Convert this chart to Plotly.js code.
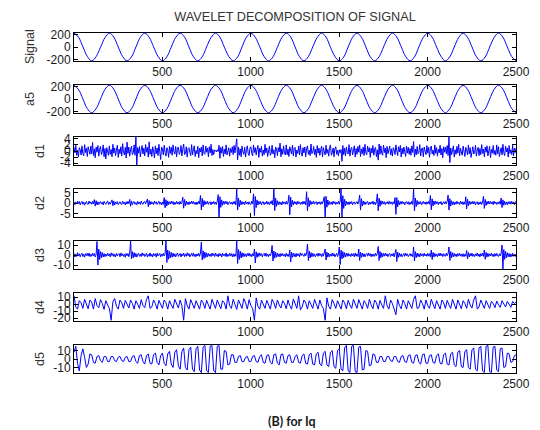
<!DOCTYPE html>
<html>
<head>
<meta charset="utf-8">
<script src="https://cdn.plot.ly/plotly-3.0.1.min.js"></script>
<style>html,body{margin:0;padding:0;background:#fff;}#chart{width:540px;height:430px;}</style>
</head>
<body>
<div id="chart"></div>
<script>
// Panel names (y-axis labels)
var panelNames = ["Signal", "a5", "d1", "d2", "d3", "d4", "d5"];
var xTickVals = [500, 1000, 1500, 2000, 2500];
var xTickText = ["500", "1000", "1500", "2000", "2500"];

// y tick values per panel
var yTicks = [
  [-200, 0, 200],
  [-200, 0, 200],
  [-4, -2, 0, 2, 4],
  [-5, 0, 5],
  [-10, 0, 10],
  [-20, -10, 0, 10],
  [-10, 0, 10]
];
var yRanges = [[-224, 224], [-224, 224], [-4.6, 4.6], [-6.7, 6.7], [-14, 14], [-24, 16], [-16.5, 16.5]];

// Sample spacing of the read-off values
var coarseStep = 25;  // signal, a5
var fineStep = 5;     // d1, d2, d3
var midStep = 10;     // d4, d5

var signal = [
222,160,5,-150,-222,-155,-3,150,
222,158,2,-152,-222,-158,0,155,
222,156,4,-151,-222,-157,-2,153,
222,159,0,-154,-222,-156,3,152,
222,157,-2,-150,-222,-159,1,156,
222,155,3,-153,-222,-157,-4,150,
222,160,1,-155,-222,-154,2,152,
222,158,-3,-151,-222,-160,0,155,
222,156,2,-156,-222,-155,-1,151,
222,159,4,-152,-222,-158,3,154,
222,157,-1,-150,-222,-156,0,153,
222,154,2,-154,-222,-159,-2,150,
222,158,1,-153,-222
];

var a5 = [
220,155,2,-152,-220,-156,-1,154,
220,157,1,-154,-220,-157,0,155,
220,156,2,-153,-220,-156,-1,154,
220,157,0,-155,-220,-157,1,153,
220,156,-1,-153,-220,-158,0,155,
220,155,1,-154,-220,-157,-2,152,
220,157,0,-155,-220,-156,1,153,
220,156,-1,-153,-220,-157,0,155,
220,155,1,-155,-220,-156,0,152,
220,157,2,-153,-220,-157,1,154,
220,156,0,-152,-220,-156,0,154,
220,155,1,-154,-220,-157,-1,152,
220,157,0,-154,-220
];

var d1 = [
1.2,-0.6,1.9,-1.4,0.3,-2.0,1.1,0.4,-1.3,1.7,-0.8,-1.6,2.1,-0.5,0.9,-1.8,1.4,-0.2,-1.1,1.6,
-0.9,2.8,-1.5,0.7,-2.2,1.3,-0.4,1.8,-1.7,0.6,1.5,-1.2,-0.3,2.0,-1.9,0.8,-2.6,1.1,0.2,-1.4,
1.7,-1.1,0.5,-1.9,2.2,-0.7,1.0,-1.5,0.3,1.9,-2.1,0.6,-0.9,1.4,-1.6,2.4,-0.5,-1.3,1.2,-2.3,
2.9,-0.8,1.3,-1.7,0.4,1.6,-1.2,-0.6,2.0,-1.4,4.6,-4.6,1.1,-0.7,1.5,-1.9,0.3,1.8,-1.0,0.9,
-1.6,2.1,-0.4,1.2,-2.0,3.0,-1.1,0.6,-1.8,1.4,-0.3,-2.3,1.7,-0.9,1.0,-1.5,2.2,-0.6,-2.8,1.3,
0.7,-1.3,1.9,-0.5,-1.7,1.1,0.3,-2.1,1.6,-0.8,1.2,-1.4,2.0,-0.2,-1.0,1.5,-1.9,0.9,1.3,-1.1,
-0.4,1.8,-1.6,0.6,2.3,-1.2,-0.7,1.4,-2.0,0.8,1.1,-0.5,-1.5,2.1,-1.3,0.4,1.7,-1.8,0.2,-0.9,
1.5,-2.2,0.9,-0.3,1.3,-1.6,2.0,-0.8,-1.1,1.6,-0.4,1.0,-1.9,1.4,-0.6,2.2,-1.5,0.5,-1.2,0.3,
0.2,-0.3,0.4,-0.2,1.9,-2.4,1.2,-0.7,1.5,-1.8,0.6,-1.0,2.0,-1.3,0.4,1.1,-1.7,0.8,-0.5,1.4,
-1.2,1.8,-0.6,2.1,4.0,-2.9,1.3,-1.4,0.7,-1.9,1.6,-0.3,-1.1,1.2,-2.0,0.5,1.7,-0.9,-1.5,1.0,
1.4,-0.8,-1.6,2.0,-0.5,1.1,-1.3,0.6,1.8,-2.1,0.9,-0.4,1.5,-1.7,0.3,-1.2,2.2,-0.6,1.0,-1.8,
0.5,1.6,-1.4,-0.7,1.9,-1.0,0.4,-2.2,1.3,0.8,-1.5,1.1,-0.3,2.6,-1.9,0.7,-1.1,1.7,-0.6,-1.3,
2.0,-1.2,0.6,-1.8,1.4,-0.4,-1.0,1.9,-1.6,0.9,1.2,-2.0,0.3,-0.8,1.6,-1.3,2.1,-0.5,-1.7,1.1,
-0.6,1.3,-1.9,0.8,1.7,-1.1,0.2,-1.5,2.3,-0.9,-0.4,1.5,-1.2,0.6,-2.1,1.8,-0.7,1.0,-1.4,0.4,
1.6,-2.0,1.1,-0.3,-1.3,1.9,-0.8,0.5,-1.7,1.2,2.0,-1.4,-0.6,1.0,-1.9,0.7,1.4,-1.1,0.3,-1.6,
0.4,-0.6,0.5,-3.4,1.8,-1.2,0.9,-1.6,1.3,-0.5,-1.0,2.1,-1.7,0.6,1.2,-1.3,0.2,1.7,-2.0,0.8,
-1.1,1.5,-0.4,2.0,-1.8,0.7,-0.9,1.3,-1.5,2.2,-0.6,-1.2,1.6,-0.3,1.1,-2.1,0.9,-0.7,1.8,-1.4,
0.6,1.2,-1.9,0.4,-3.0,2.3,-1.1,1.7,-0.8,-1.4,1.9,-0.5,1.0,-2.2,1.5,-0.9,0.3,1.6,-1.3,0.7,
-1.7,1.1,0.5,-1.2,2.0,-0.6,-1.5,1.4,-0.3,1.8,-2.0,0.9,-1.0,1.3,0.2,-1.8,1.6,-0.7,1.2,-1.1,
0.8,-1.4,1.7,-0.5,3.1,-2.0,0.6,-1.3,1.5,-0.9,-0.4,2.1,-1.6,0.7,1.0,-1.9,1.3,-0.2,-1.2,1.8,
-0.7,1.2,-2.1,0.9,1.6,-1.0,0.3,-1.5,2.0,-0.8,1.1,-1.7,0.5,-0.6,1.9,-1.3,0.8,-2.2,1.4,-0.4,
1.3,-0.9,1.8,-1.5,4.6,-3.8,1.0,-1.2,0.6,1.7,-2.0,0.4,-1.1,1.5,-0.7,2.2,-1.6,0.9,-0.3,-1.4,
1.6,-0.6,-1.8,1.2,0.4,-1.3,2.0,-0.9,1.1,-2.1,0.7,1.4,-1.0,-0.5,1.9,-1.7,0.3,1.2,-1.5,0.8,
-1.2,2.1,-0.8,0.6,-1.9,1.3,-0.4,1.7,-1.6,0.9,1.5,-2.2,0.5,-0.7,1.8,-1.1,0.2,-1.4,2.0,-0.9,
1.4,-1.8,0.7,1.1,-1.3,2.2,-0.6,-1.5,1.6,-0.3,1.0,-2.0,1.8,-0.8,0.4,-1.2,1.9,-1.6,0.9,-0.5,
1.1
];

var d2 = [
0.6,-0.8,0.4,-0.5,0.9,-0.3,0.7,-0.9,0.2,0.8,-0.6,0.5,-1.0,0.3,0.7,-0.4,-0.7,0.9,-0.2,0.5,
-0.6,0.7,-0.4,1.6,-1.5,1.1,-0.9,0.6,-0.8,0.3,0.7,-0.5,0.4,-0.9,0.8,-0.2,-0.6,0.5,0.9,-0.7,
0.4,-0.6,0.8,1.5,-1.3,0.9,-1.0,0.5,-0.4,0.7,-0.8,0.3,0.6,-0.5,-0.7,0.9,-0.3,0.4,-0.9,0.6,
-0.5,0.8,-0.3,1.7,-1.6,1.0,-0.8,0.4,0.7,-0.6,0.2,-0.9,0.8,-0.4,0.5,-0.7,0.9,-0.3,-0.6,0.5,
0.7,-0.4,0.6,1.9,-1.8,1.2,-0.9,0.7,-0.5,0.3,-0.8,0.9,-0.2,0.6,-0.7,0.4,0.8,-0.6,0.3,-0.9,
0.5,-0.7,2.6,-2.3,1.6,-1.4,1.0,-0.8,0.6,-0.5,0.9,-0.3,0.7,-0.9,0.4,-0.6,0.8,-0.4,0.5,-0.7,
0.8,-0.5,0.3,2.8,-2.5,1.7,-1.3,0.9,-0.7,0.5,-0.8,0.6,-0.4,0.9,-0.3,0.7,-0.6,0.4,-0.8,0.5,
-0.6,0.9,-0.4,3.6,-3.3,2.2,-1.8,1.2,-0.9,0.7,-0.5,0.8,-0.7,0.3,0.6,-0.9,0.5,-0.4,0.8,-0.6,
0.4,-0.7,0.9,4.0,-6.7,3.0,-2.1,1.5,-1.1,0.8,-0.6,0.9,-0.4,0.7,-0.8,0.3,0.6,-0.5,0.4,-0.7,
0.6,-0.5,0.8,-0.9,6.7,-3.4,2.4,-1.8,1.3,-0.9,0.7,-0.6,0.5,-0.8,0.9,-0.3,0.4,-0.7,0.6,-0.5,
-0.7,0.9,-0.4,4.4,-6.0,3.1,-2.2,1.5,-1.0,0.8,-0.5,0.7,-0.9,0.4,0.6,-0.8,0.3,-0.5,0.9,-0.6,
0.5,-0.8,0.7,-0.4,1.2,-1.0,6.7,-3.6,2.3,-1.6,1.1,-0.8,0.6,-0.7,0.4,-0.9,0.8,-0.3,0.5,-0.6,
0.8,-0.6,0.4,3.7,-5.6,2.8,-1.9,1.3,-0.9,0.7,-0.5,0.6,-0.8,0.9,-0.3,0.5,-0.7,0.4,-0.6,0.8,
-0.5,0.7,-0.9,5.4,-3.8,2.5,-1.7,1.2,-0.8,0.6,-0.4,0.9,-0.6,0.3,0.7,-0.8,0.5,-0.4,0.6,-0.7,
0.6,-0.4,0.8,3.0,-6.7,3.2,-2.0,1.4,-1.0,0.7,-0.6,0.5,-0.8,0.9,-0.3,0.6,-0.7,0.4,-0.5,0.8,
-0.6,0.9,6.7,-6.7,3.5,-2.6,1.8,-1.3,0.9,-0.7,0.5,-0.8,0.6,-0.4,0.7,-0.9,0.3,0.5,-0.6,0.4,
0.7,-0.5,0.9,3.8,-3.4,2.1,-1.5,1.0,-0.8,0.6,-0.7,0.4,0.8,-0.9,0.3,-0.6,0.5,-0.4,0.9,-0.7,
0.5,-0.8,0.6,4.4,-3.7,2.3,-1.6,1.1,-0.7,0.9,-0.5,0.6,-0.8,0.4,-0.3,0.7,-0.6,0.8,-0.4,0.5,
-0.7,0.6,-0.4,2.6,-5.4,2.6,-1.8,1.2,-0.9,0.7,-0.6,0.8,-0.3,0.5,-0.9,0.4,0.7,-0.5,0.6,-0.8,
0.4,-0.6,0.9,-0.7,6.7,-3.8,2.4,-1.7,1.2,-0.8,0.6,-0.5,0.7,-0.9,0.3,0.8,-0.4,0.5,-0.7,0.6,
-0.5,0.8,-0.6,3.6,-3.2,2.0,-1.4,1.0,-0.7,0.9,-0.4,0.6,-0.8,0.5,-0.3,0.7,-0.9,0.4,0.6,-0.5,
0.7,-0.4,0.8,3.8,-3.4,2.1,-1.5,1.1,-0.8,0.6,-0.9,0.5,-0.6,0.8,-0.4,0.3,-0.7,0.9,-0.5,0.6,
-0.8,0.5,-0.6,3.0,-2.8,1.8,-1.3,0.9,-0.7,0.6,-0.4,0.8,-0.5,0.7,-0.9,0.3,0.6,-0.8,0.4,-0.6,
0.6,-0.7,0.5,3.2,-2.6,1.7,-1.2,0.8,-0.6,0.9,-0.5,0.7,-0.4,0.6,-0.8,0.9,-0.3,0.5,-0.7,0.4,
-0.5,0.8,-0.6,2.4,-2.2,1.5,-1.1,0.8,-0.7,0.5,-0.9,0.6,-0.4,0.7,-0.6,0.8,-0.3,0.5,-0.8,0.6,
0.4
];

var d3 = [
1.6,-2.1,0.8,-1.4,2.3,-0.9,1.2,-1.8,0.5,1.9,-1.5,0.7,-2.2,1.3,-0.6,1.7,-1.1,2.0,-1.6,0.9,
-1.3,1.8,-0.7,1.5,-2.0,0.6,13.5,-10.0,6.0,-4.5,3.5,-2.8,2.6,-2.0,1.4,-1.7,0.9,-1.2,1.9,-0.8,
1.1,-1.9,2.2,-0.6,1.4,-1.6,0.8,-2.0,1.7,-1.0,0.5,1.5,-1.8,2.1,-0.9,1.2,-1.4,0.7,-2.3,1.6,
-0.8,1.4,-1.7,2.0,14.0,-4.0,3.4,-2.8,2.4,-1.9,1.6,-2.1,0.7,1.8,-1.3,0.9,-1.6,2.2,-0.6,1.3,
-1.5,0.9,1.7,-2.0,0.6,-1.2,2.1,-1.4,0.8,-1.9,1.5,-0.7,1.2,-2.2,1.9,-1.0,0.4,1.6,-1.8,1.0,
-1.2,1.7,-0.9,1.3,14.0,-7.5,5.0,-4.2,3.6,-3.0,2.6,-2.2,1.8,-1.5,1.2,-1.9,0.8,2.0,-1.4,0.6,
1.5,-2.0,1.1,-0.7,1.9,-1.6,0.9,-1.3,2.2,-0.8,1.4,-1.9,0.6,1.7,-1.2,2.1,-1.5,0.8,-1.7,1.2,
-0.9,1.6,-1.4,2.0,12.8,-5.0,4.2,-3.4,3.0,-2.5,2.1,-1.8,1.5,-1.2,0.9,-1.6,1.9,-0.7,1.3,-1.5,
2.0,-1.1,0.7,-1.8,1.5,-0.9,1.2,-2.1,1.7,-0.6,1.0,-1.4,2.2,-1.6,0.8,-1.3,1.8,-0.8,1.4,-1.9,
1.2,-1.6,0.9,-1.2,14.0,-8.5,5.5,-4.4,3.8,-3.0,2.4,-2.0,1.7,-1.4,1.1,-1.8,1.5,-0.9,2.0,-1.3,
0.8,-1.7,1.4,-1.0,6.0,-8.0,3.2,-2.4,1.9,-1.5,2.1,-0.7,1.3,-1.9,0.6,1.6,-1.2,2.0,-1.4,0.9,
-1.6,1.1,-0.8,1.8,9.5,-6.0,4.0,-3.2,2.7,-2.2,1.8,-1.5,1.2,-1.9,1.6,-0.8,1.4,-1.2,0.7,-1.7,
1.9,-1.3,0.8,-1.6,5.0,-7.0,3.0,-2.4,1.8,-1.5,1.3,-2.0,1.6,-0.9,1.2,-1.7,2.1,-0.6,1.5,-1.1,
-1.4,1.6,-0.9,2.0,11.0,-5.5,3.9,-3.0,2.4,-1.9,1.7,-1.4,1.1,-1.8,0.8,1.5,-1.3,1.9,-0.7,1.2,
-1.8,1.3,-1.1,1.7,6.0,-5.0,2.8,-2.2,1.8,-1.6,0.9,-1.3,2.0,-1.0,1.4,-1.9,0.6,1.7,-1.5,1.0,
8.0,-9.5,5.0,-4.0,3.5,-2.8,2.4,-2.0,1.7,-1.4,1.9,-1.1,0.8,-1.6,1.5,-0.9,1.3,-1.8,2.0,-1.2,
1.1,-1.5,6.0,-5.5,3.0,-2.5,1.9,-1.6,1.3,-1.9,0.7,1.6,-1.2,2.1,-0.8,1.4,-1.7,1.0,-1.4,0.9,
-1.3,1.8,-0.7,1.5,8.5,-5.5,3.6,-2.8,2.2,-1.8,1.5,-1.2,1.9,-0.9,1.2,-1.7,0.8,1.6,-1.5,1.1,
-1.0,1.6,-1.9,1.3,5.5,-6.5,3.0,-2.3,1.8,-1.4,1.1,-1.8,0.9,1.5,-1.3,2.0,-0.7,1.2,-1.6,0.8,
1.4,-1.2,0.9,-1.7,8.0,-6.0,3.4,-2.6,2.0,-1.6,1.3,-1.9,1.6,-0.8,1.1,-1.5,1.9,-1.0,0.7,-1.3,
1.7,-1.1,1.3,-1.8,5.0,-4.5,2.6,-2.0,1.6,-1.3,0.9,-1.7,1.5,-1.0,2.0,-0.8,1.2,-1.6,1.4,-0.9,
-1.2,1.9,-0.8,1.4,8.0,-5.5,3.5,-2.8,2.3,-1.9,1.6,-1.3,1.0,-1.7,1.4,-0.7,1.8,-1.2,0.9,-1.5,
1.3,-1.7,0.8,-1.2,4.5,-4.0,2.4,-1.9,1.5,-1.1,1.8,-1.4,0.7,-1.6,1.2,-0.9,2.0,-1.3,1.1,-1.8,
1.5,-1.0,1.7,-1.4,5.0,-4.2,2.6,-2.1,1.7,-1.5,1.2,-0.8,1.9,-1.3,0.9,-1.7,1.4,-1.1,1.6,-0.9,
-1.4,1.2,-0.9,1.8,10.0,-14.0,5.5,-4.4,3.6,-2.9,2.3,-1.8,1.5,-2.1,1.1,-1.6,1.9,-1.2,0.8,-1.5,
1.2
];

var d4 = [
12.0,-4.0,-7.0,5.0,2.0,-6.0,7.0,-1.0,-6.5,6.0,
3.0,-7.0,8.0,-2.0,-5.0,6.5,1.0,-7.5,5.0,-1.0,
-6.0,-23.0,4.0,8.0,-3.0,-7.0,6.0,2.0,-6.0,5.5,
-1.0,-5.5,6.0,1.0,-7.0,5.0,0.0,-6.0,6.5,-2.0,
-5.0,7.0,12.0,-6.0,-4.0,6.0,1.0,-7.0,5.5,-1.0,
-6.0,6.0,2.0,-7.0,5.0,-1.0,-6.0,7.0,1.0,-5.5,
6.0,-2.0,-23.0,8.0,-2.0,-7.0,6.5,1.0,-6.0,5.0,
-1.0,-7.0,6.0,2.0,-6.0,5.5,-1.0,-7.0,7.0,1.0,
-6.0,6.0,-1.0,-6.5,5.0,2.0,-7.0,12.0,-2.0,-6.0,
7.0,1.0,-7.5,6.0,-1.0,-6.0,8.0,2.0,-7.0,6.5,
-2.0,-6.0,-23.0,9.0,-3.0,-7.0,6.0,1.0,-6.0,5.5,
-1.0,-7.0,7.0,2.0,-6.0,6.0,-1.0,-5.5,5.0,1.0,
-6.5,6.0,-2.0,-7.0,7.5,1.0,-6.0,12.0,-8.0,-4.0,
6.0,2.0,-7.0,5.0,-1.0,-6.0,7.0,1.0,-7.0,6.0,
-2.0,-6.0,-23.0,9.0,-3.0,-7.0,6.5,1.0,-6.0,5.0,
-1.0,-7.0,6.0,2.0,-6.5,5.5,-1.0,-6.0,7.0,1.0,
-6.0,6.5,-2.0,-7.0,5.0,1.0,-6.0,7.0,-1.0,-6.5,
6.0,2.0,-7.0,5.5,-1.0,-6.0,12.0,-2.0,-7.0,6.0,
1.0,-6.0,-15.0,7.0,-2.0,-6.5,6.0,1.0,-7.0,5.0,
-1.0,-6.0,7.0,12.0,-6.0,-5.0,6.0,1.0,-7.0,6.0,
-2.0,-6.0,7.0,1.0,-6.5,5.0,-1.0,-7.0,6.0,2.0,
-6.0,5.5,-1.0,-6.0,7.0,1.0,-7.0,6.0,-2.0,-6.5,
5.0,1.0,-6.0,7.0,-1.0,-5.5,6.0,12.0,-7.0,-4.0,
6.0,1.0,-6.0,5.0,-1.0,-6.0,4.0,1.0,-5.0,4.5,
-1.0,-4.5,5.0,1.0,-4.0,4.0,-1.0,-4.5,4.0,1.0,
3.0
];

var d5 = [
8,15,-5,-14,4,12,2,-10,-6,6,
5,-4,-5,3,4,-2,-4,3,3,-3,
-3,3,3,-2,-3,2,3,-2,-3,2,
3,-3,-3,3,4,-3,-5,4,5,-3,
-6,4,6,-5,-6,5,7,-4,-7,4,
7,-5,-8,6,9,-6,-10,8,11,-8,
-12,9,13,-10,-13,11,14,-12,-15,12,
15,-13,-16,14,16,-14,-16,15,16,-14,
-16,15,16,-12,-12,10,9,-7,-6,5,
5,-4,-4,3,4,-3,-3,2,3,-3,
-3,3,4,-3,-4,3,5,-4,-5,4,
5,-4,-6,5,6,-5,-7,5,6,-4,
-5,4,5,-4,-4,3,5,-4,-5,4,
6,-5,-6,5,7,-6,-7,6,8,-6,
-8,7,9,-7,-9,8,10,-9,-11,10,
12,-12,-14,13,16,-14,-16,15,16,-15,
-16,14,15,-13,-12,10,9,-8,-7,6,
5,-4,-4,3,3,-3,-3,3,3,-2,
-3,3,3,-3,-4,3,4,-3,-4,4,
5,-4,-5,4,5,-4,-6,5,6,-5,
-5,4,5,-4,-5,4,6,-5,-6,5,
7,-6,-7,6,8,-7,-9,8,10,-9,
-10,9,11,-10,-12,11,13,-12,-14,13,
15,-14,-16,15,16,-15,-16,14,15,-13,
-15,12,13,-10,-9,7,6,-4,-3,4,
5
];

var series = [signal, a5, d1, d2, d3, d4, d5];
var steps = [coarseStep, coarseStep, fineStep, fineStep, fineStep, midStep, midStep];

// Layout geometry (pixels)
var W = 540, H = 430;
var mL = 74, mR = 24, mT = 33, mB = 57;
var plotH = H - mT - mB; // 340
var panelPitch = 52, panelH = 28;

var traces = [];
var layout = {
  width: W, height: H,
  margin: {l: mL, r: mR, t: mT, b: mB, pad: 0},
  paper_bgcolor: "#ffffff",
  plot_bgcolor: "#ffffff",
  showlegend: false,
  font: {family: "Liberation Sans, Arial, sans-serif", size: 12, color: "#1a1a1a"},
  title: {
    text: "WAVELET DECOMPOSITION OF SIGNAL",
    font: {family: "Liberation Sans, Arial, sans-serif", size: 12.7, color: "#333333"},
    xref: "paper", x: 0.5, xanchor: "center",
    yref: "container", y: 1 - 17 / H, yanchor: "middle"
  },
  annotations: []
};

for (var i = 0; i < series.length; i++) {
  var sfx = i === 0 ? "" : String(i + 1);
  var topPx = panelPitch * i;
  var y1 = 1 - topPx / plotH;
  var y0 = 1 - (topPx + panelH) / plotH;
  traces.push({
    type: "scatter", mode: "lines",
    y: series[i], x0: 1, dx: steps[i],
    xaxis: "x" + sfx, yaxis: "y" + sfx,
    line: {color: "#0000ff", width: 1, shape: i < 2 ? "spline" : "linear"},
    hoverinfo: "skip"
  });
  layout["xaxis" + sfx] = {
    domain: [0, 1], anchor: "y" + sfx, range: [1, 2500],
    tickmode: "array", tickvals: xTickVals, ticktext: xTickText,
    ticks: "inside", ticklen: 4, tickcolor: "#000", tickwidth: 1,
    showline: true, linecolor: "#000", linewidth: 1, mirror: "ticks",
    showgrid: false, zeroline: false,
    tickfont: {size: 12, color: "#1a1a1a"}
  };
  layout["yaxis" + sfx] = {
    domain: [y0, y1], anchor: "x" + sfx, range: yRanges[i],
    tickmode: "array", tickvals: yTicks[i], ticktext: yTicks[i].map(String),
    ticks: "inside", ticklen: 4, tickcolor: "#000", tickwidth: 1,
    showline: true, linecolor: "#000", linewidth: 1, mirror: "ticks",
    showgrid: false, zeroline: false,
    tickfont: {size: 12, color: "#1a1a1a"}
  };
  var labelX = i < 2 ? 30 : 40;
  layout.annotations.push({
    text: panelNames[i], showarrow: false, textangle: -90,
    xref: "paper", yref: "paper",
    x: (labelX - mL) / (W - mL - mR), y: (y0 + y1) / 2,
    xanchor: "center", yanchor: "middle",
    font: {size: 12.5, color: "#333333"}
  });
}

layout.annotations.push({
  text: "<b>(B) for Iq</b>", showarrow: false,
  xref: "paper", yref: "paper",
  x: (292 - mL) / (W - mL - mR), y: (373 - 421) / plotH,
  xanchor: "center", yanchor: "middle",
  font: {family: "Lato, Open Sans, sans-serif", size: 12.5, color: "#1a1a1a"}
});

Plotly.newPlot("chart", traces, layout, {staticPlot: true, displayModeBar: false});
</script>
</body>
</html>
